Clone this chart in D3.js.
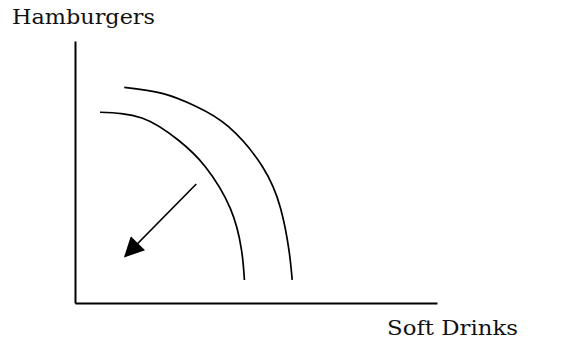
<!DOCTYPE html>
<html>
<head>
<meta charset="utf-8">
<script src="https://cdn.jsdelivr.net/npm/d3@7"></script>
<style>
  body { margin: 0; background: #fff; }
  text { font-family: "DejaVu Serif", "Liberation Serif", serif; fill: #111; }
</style>
</head>
<body>
<div id="chart"></div>
<script>
// Production possibilities frontier, shifting inward.
// Values are in arbitrary units (0-100 on each axis).

const xLabel = "Soft Drinks";
const yLabel = "Hamburgers";

// outer (original) frontier, [soft drinks, hamburgers]
const outerPPF = [
  [13.6, 82.3], [24.1, 80.0], [33.2, 75.2], [42.4, 67.3],
  [51.8, 52.0], [56.8, 36.1], [59.1, 20.2], [60.0, 8.8]
];

// inner (new) frontier
const innerPPF = [
  [6.9, 72.8], [18.5, 70.6], [28.5, 62.2], [36.0, 52.0],
  [42.9, 36.1], [46.0, 20.2], [46.8, 8.8]
];

// arrow showing the shift: [from, to]
const shiftArrow = [[33.5, 45.4], [13.9, 17.9]];

const width = 565, height = 342;
const margin = {top: 41, right: 128, bottom: 39, left: 75};

const svg = d3.select("#chart")
  .append("svg")
  .attr("width", width)
  .attr("height", height);

const xScale = d3.scaleLinear()
  .domain([0, 100])
  .range([margin.left, width - margin.right]);

const yScale = d3.scaleLinear()
  .domain([0, 100])
  .range([height - margin.bottom, margin.top]);

// arrowhead
svg.append("defs").append("marker")
  .attr("id", "head")
  .attr("viewBox", "0 0 10 10")
  .attr("refX", 9)
  .attr("refY", 5)
  .attr("markerUnits", "userSpaceOnUse")
  .attr("markerWidth", 21)
  .attr("markerHeight", 20)
  .attr("orient", "auto")
  .append("path")
  .attr("d", "M0,0L10,5L0,10Z")
  .attr("fill", "#000");

// axes: plain lines, no ticks
svg.append("g")
  .attr("class", "xaxis")
  .attr("transform", `translate(0, ${yScale(0)})`)
  .call(d3.axisBottom(xScale).tickValues([]).tickSizeOuter(0));

svg.append("g")
  .attr("class", "yaxis")
  .attr("transform", `translate(${xScale(0)}, 0)`)
  .call(d3.axisLeft(yScale).tickValues([]).tickSizeOuter(0));

svg.selectAll(".domain")
  .attr("stroke", "#000")
  .attr("stroke-width", 2);

// frontiers
const lineGen = d3.line()
  .x(d => xScale(d[0]))
  .y(d => yScale(d[1]))
  .curve(d3.curveNatural);

svg.selectAll(".ppf")
  .data([outerPPF, innerPPF])
  .enter()
  .append("path")
  .attr("class", "ppf")
  .attr("d", lineGen)
  .attr("fill", "none")
  .attr("stroke", "#000")
  .attr("stroke-width", 1.7);

// arrow
svg.append("path")
  .datum(shiftArrow)
  .attr("d", d3.line().x(d => xScale(d[0])).y(d => yScale(d[1])))
  .attr("stroke", "#000")
  .attr("stroke-width", 1.6)
  .attr("marker-end", "url(#head)");

// labels (reference face is wider than DejaVu, so stretch to its width)
svg.append("text")
  .attr("x", 12)
  .attr("y", 24)
  .attr("font-size", "20px")
  .attr("textLength", 143)
  .attr("lengthAdjust", "spacingAndGlyphs")
  .text(yLabel);

svg.append("text")
  .attr("x", 387)
  .attr("y", 335)
  .attr("font-size", "20px")
  .attr("textLength", 131)
  .attr("lengthAdjust", "spacingAndGlyphs")
  .text(xLabel);
</script>
</body>
</html>
